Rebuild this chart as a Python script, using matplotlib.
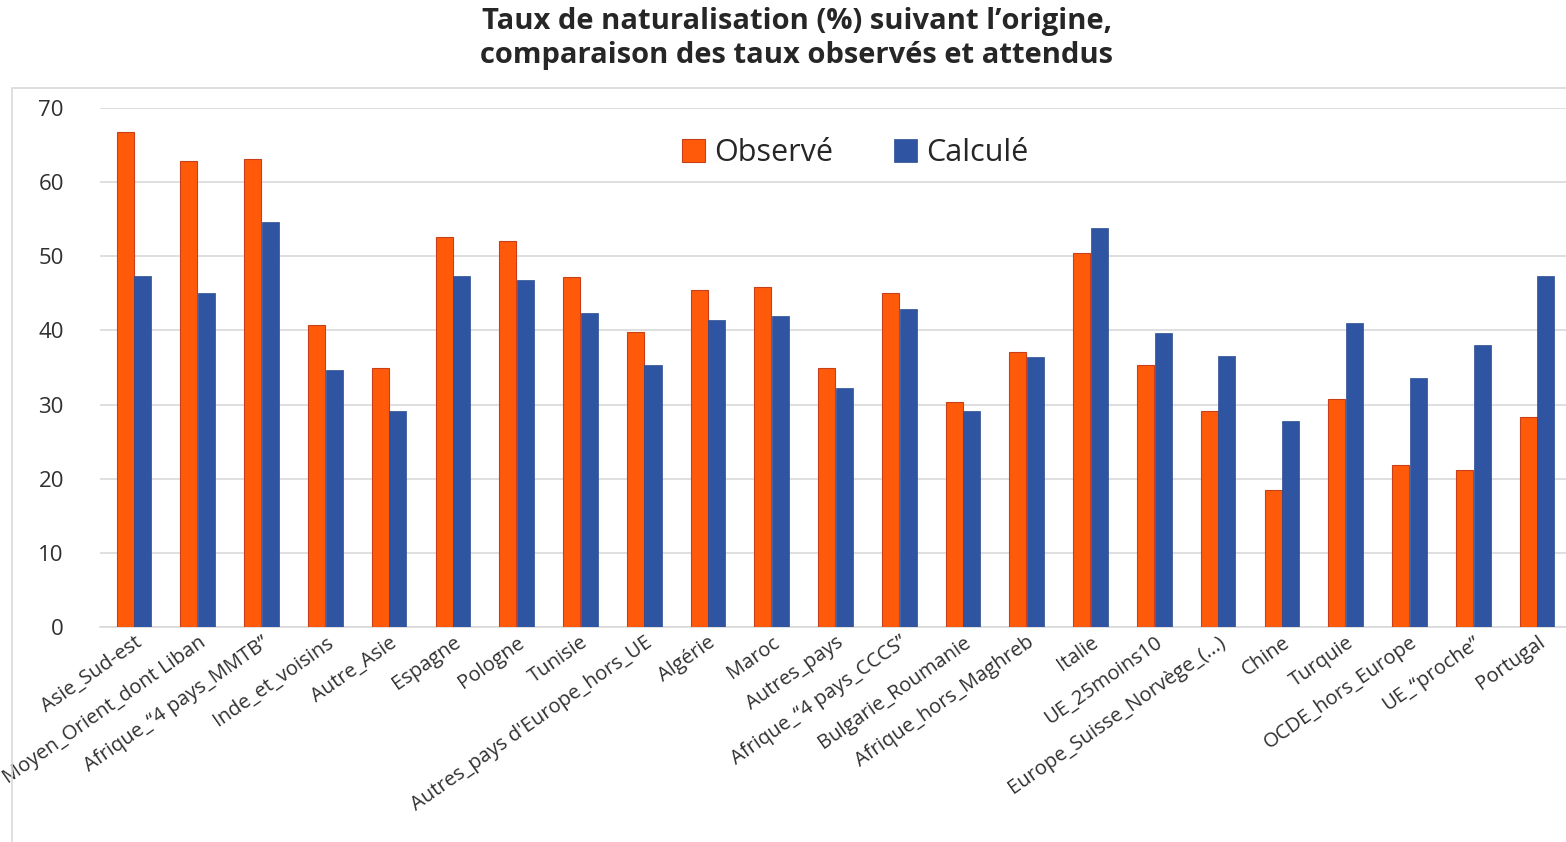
import matplotlib
matplotlib.use("Agg")
import matplotlib.pyplot as plt
from matplotlib.patches import Rectangle
import numpy as np

categories = [
    "Asie_Sud-est", "Moyen_Orient_dont Liban", "Afrique_\u201c4 pays_MMTB\u201d",
    "Inde_et_voisins", "Autre_Asie", "Espagne", "Pologne", "Tunisie",
    "Autres_pays d'Europe_hors_UE", "Algérie", "Maroc", "Autres_pays",
    "Afrique_\u201c4 pays_CCCS\u201d", "Bulgarie_Roumanie", "Afrique_hors_Maghreb",
    "Italie", "UE_25moins10", "Europe_Suisse_Norvège_(...)", "Chine", "Turquie",
    "OCDE_hors_Europe", "UE_\u201cproche\u201d", "Portugal",
]
observe = [66.8, 62.9, 63.1, 40.7, 34.9, 52.6, 52.0, 47.2, 39.8, 45.4, 45.9, 34.9,
           45.0, 30.4, 37.1, 50.5, 35.3, 29.2, 18.5, 30.8, 21.9, 21.2, 28.3]
calcule = [47.3, 45.0, 54.6, 34.6, 29.1, 47.3, 46.8, 42.4, 35.3, 41.4, 41.9, 32.3,
           42.9, 29.2, 36.4, 53.8, 39.7, 36.6, 27.8, 41.0, 33.6, 38.1, 47.3]
yticks = [0, 10, 20, 30, 40, 50, 60, 70]

W, H = 1566, 842
fig = plt.figure(figsize=(W / 100, H / 100), dpi=100)
plt.rcParams['font.family'] = ['Open Sans', 'DejaVu Sans']

# outer chart border
fig.patches.append(Rectangle((12 / W, -0.05), 1.1, 1 - 88 / H + 0.05,
                             transform=fig.transFigure, fill=False,
                             edgecolor="#D9D9D9", linewidth=1.2))

ax = fig.add_axes([100 / W, 1 - 627 / H, 1 - 100 / W, (627 - 108) / H])
x = np.arange(len(categories))
bw = 0.267
ax.bar(x - bw / 2 - 0.005, observe, width=bw, color="#FF5A0A", edgecolor="#C8401A",
       linewidth=0.8, label="Observé", zorder=3)
ax.bar(x + bw / 2 + 0.005, calcule, width=bw, color="#2F54A2", edgecolor="#2A4C92",
       linewidth=0.5, label="Calculé", zorder=3)

ax.set_xlim(-0.533, 22.455)
ax.set_ylim(0, 70)
ax.set_yticks(yticks)
ax.set_yticklabels([str(v) for v in yticks], fontsize=16, color="#303030")
ax.tick_params(axis="y", length=0, pad=26)
ax.tick_params(axis="x", length=0, pad=4)
ax.set_xticks(x)
ax.set_xticklabels(categories, rotation=35, ha="right", rotation_mode="anchor",
                   fontsize=14.5, color="#303030")
ax.grid(axis="y", color="#D9D9D9", linewidth=1.2, zorder=0)
for s in ["top", "right", "left"]:
    ax.spines[s].set_visible(False)
ax.spines["bottom"].set_color("#D9D9D9")
ax.spines["bottom"].set_linewidth(1.2)

leg = ax.legend(loc="center", bbox_to_anchor=(855 / W, 1 - 153 / H),
                bbox_transform=fig.transFigure, ncol=2, frameon=False,
                fontsize=22, handlelength=0.75, handleheight=0.75,
                handletextpad=0.3, columnspacing=2.0)
for t in leg.get_texts():
    t.set_color("#262626")

fig.text(797 / W, 1 - 22 / H, "Taux de naturalisation (%) suivant l\u2019origine,",
         ha="center", va="center", fontsize=21, fontweight="bold", color="#262626")
fig.text(797 / W, 1 - 56 / H, "comparaison des taux observés et attendus",
         ha="center", va="center", fontsize=21, fontweight="bold", color="#262626")

fig.savefig("out.png", dpi=100)
